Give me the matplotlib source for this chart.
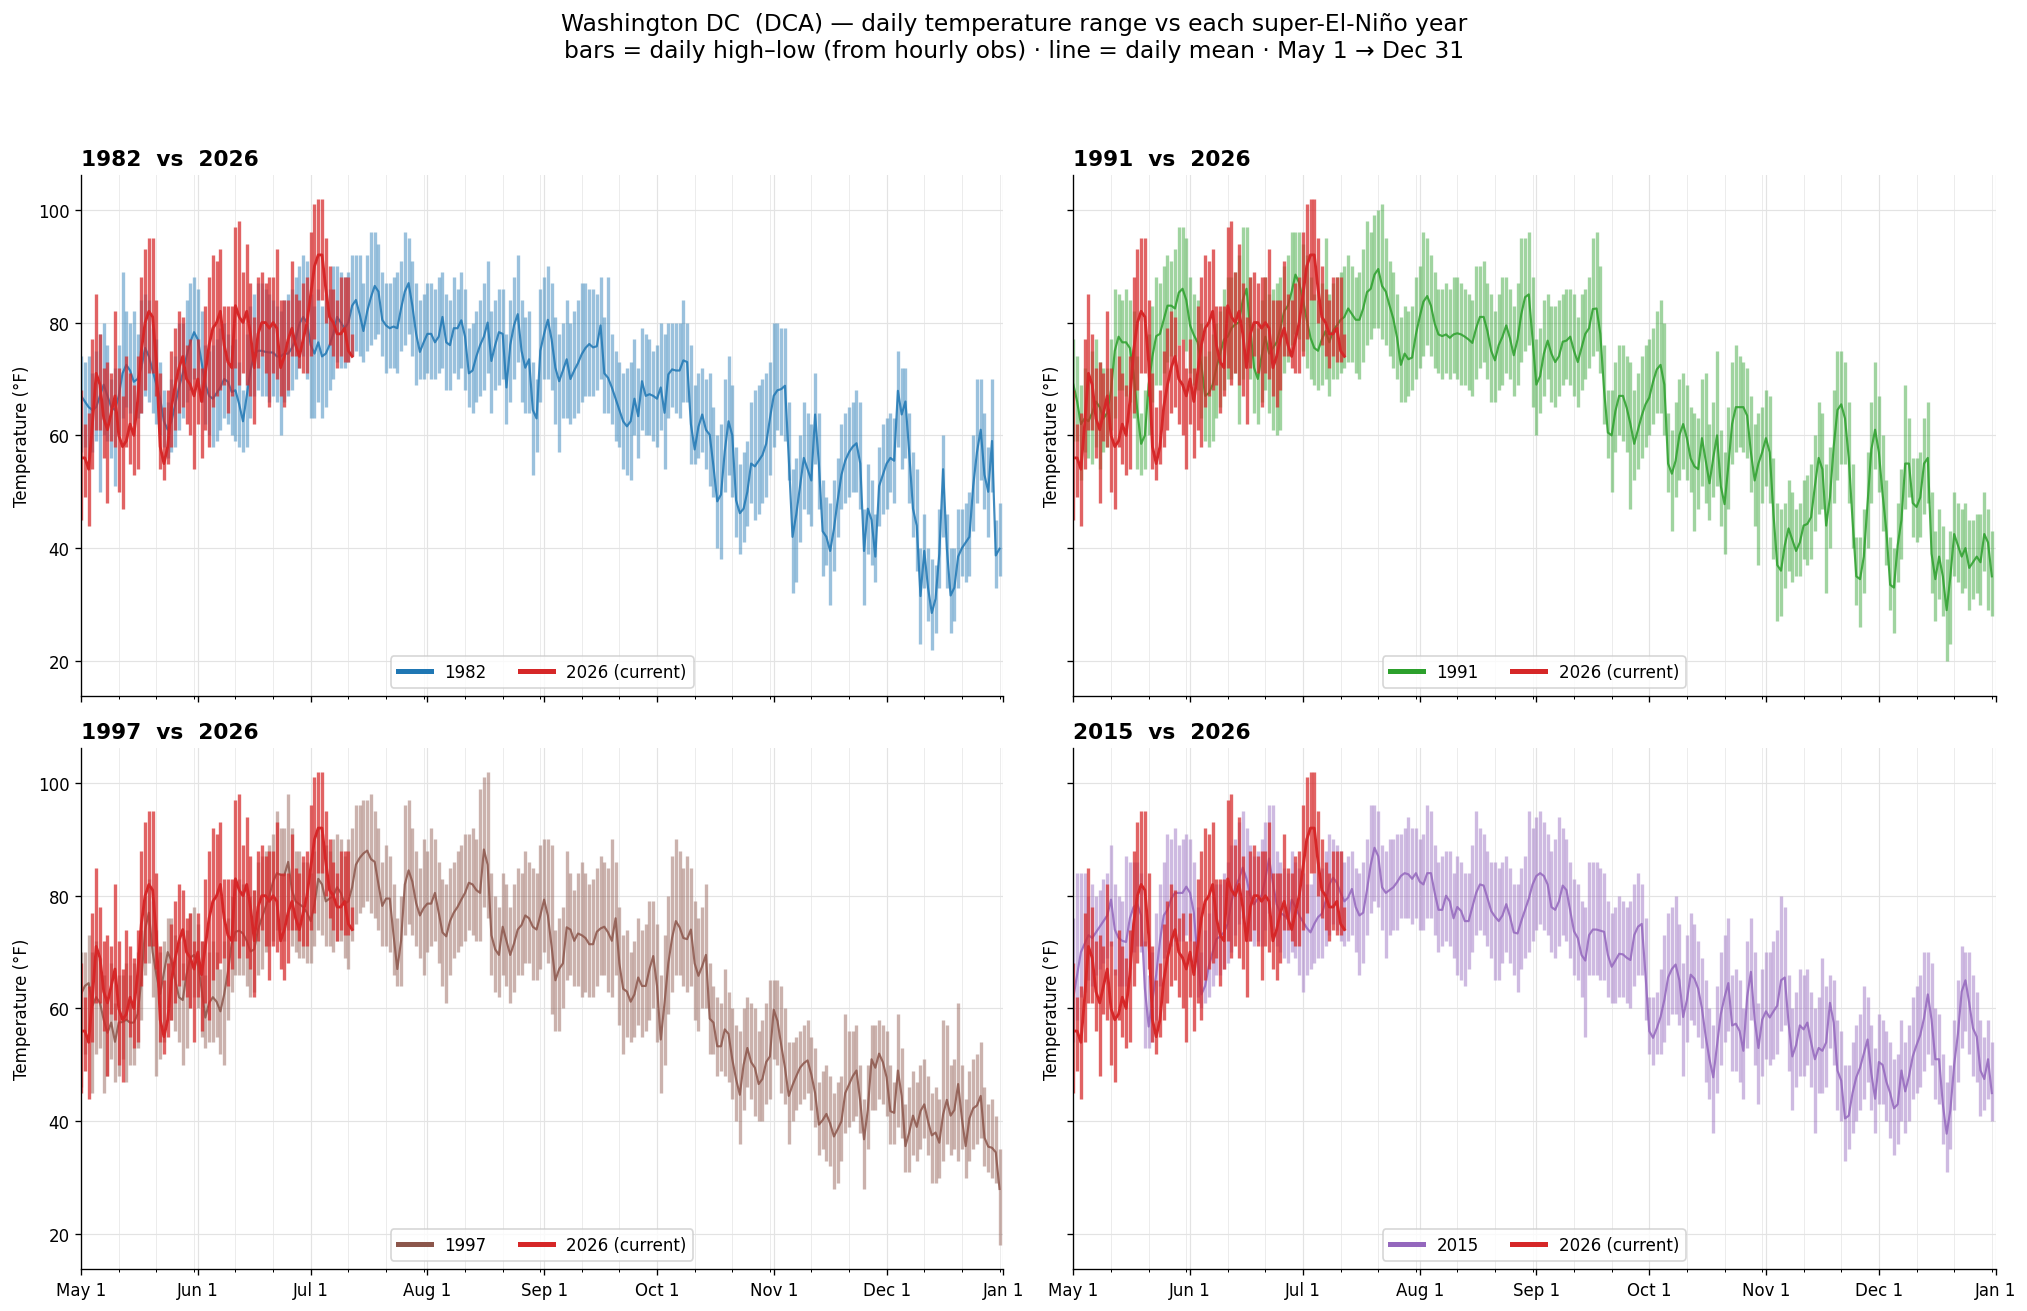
import matplotlib
matplotlib.use("Agg")
import matplotlib.pyplot as plt
import matplotlib.dates as mdates
from matplotlib.lines import Line2D
from datetime import datetime
import pandas as pd

# day axis: May 1 -> Dec 31 (common calendar)
days = pd.date_range("2026-05-01", "2026-12-31", freq="D").to_pydatetime()

mean_1982 = [67, 66, 65, 64.5, 65, 67, 69, 67, 65, 64.5,
             67, 71, 72.5, 71.5, 69.5, 70, 72, 75.5, 74, 71.5,
             69, 66.5, 62.5, 61, 62.5, 65.5, 68.5, 71, 74, 76.5,
             78.3, 77, 73, 69, 67, 66.5, 67.5, 68.5, 70, 69.5,
             67.7, 68, 65.5, 62.5, 67, 71.5, 74.5, 75, 75, 74.8,
             74.7, 74.7, 74, 74, 74.5, 74.5, 75.5, 77, 79.8, 81,
             80, 76, 74.5, 76.5, 74, 74.5, 76, 78, 81, 80,
             79, 80, 83, 84, 81.5, 78.5, 82, 84.5, 86.5, 85.5,
             80.5, 79.5, 79, 79.3, 79, 82.5, 85.5, 87, 83, 78,
             74.8, 76.5, 78, 78, 76.5, 77.5, 81, 76.5, 76, 79,
             79, 80.4, 77.5, 71, 71.5, 74, 76, 77.5, 80, 73.2,
             76, 78.3, 78, 68.5, 76, 79.5, 81.5, 75, 72, 73.5,
             64.5, 63, 75, 78, 80.5, 77, 72, 69.6, 71.5, 73.5,
             70, 71.5, 72.8, 74.4, 75.5, 76.2, 75.6, 75.8, 79.5, 71,
             70.2, 68.5, 66.5, 64.5, 62.5, 61.6, 62.5, 66.5, 63.4, 69.6,
             67, 67.3, 67, 66.5, 68.5, 64, 70.8, 71.7, 71.5, 71.5,
             73.3, 73, 62, 57.5, 61.5, 63.7, 61, 60.1, 54.5, 48.3,
             49.5, 57.2, 62.5, 60, 48.5, 46.2, 47, 50, 55, 54.5,
             55.5, 56.5, 58.5, 63, 67, 68, 68.2, 68.8, 56, 42,
             46, 51, 56, 54, 52, 63.7, 55, 43, 42, 39.5,
             43.4, 48.5, 53, 55.5, 57, 58, 58.6, 55, 39.5, 47,
             45, 38.5, 51, 53, 55, 56, 55.5, 67.9, 63.7, 66,
             57, 47, 44, 31.5, 39.5, 33, 28.5, 31, 39, 54,
             40, 31.6, 33, 38.5, 40, 41, 42, 51, 57, 61,
             53, 50, 59, 38.7, 39.9]
hi_1982 = [74, 73, 74, 71, 75, 78, 80, 76, 70, 72,
           76, 89, 82, 80, 82, 78, 84, 85, 84, 79,
           77, 73, 68, 66, 70, 74, 80, 80, 84, 87,
           88, 86, 82, 76, 75, 76, 77, 79, 80, 78,
           76, 77, 73, 68, 78, 83, 85, 87, 87, 86,
           85, 84, 83, 82, 84, 85, 86, 88, 90, 92,
           91, 85, 83, 86, 83, 85, 86, 90, 90, 89,
           88, 89, 92, 92, 92, 87, 92, 96, 96, 94,
           89, 87, 87, 88, 89, 91, 96, 95, 91, 87,
           84, 85, 87, 87, 86, 88, 89, 85, 84, 88,
           86, 89, 86, 79, 80, 82, 84, 87, 91, 82,
           84, 86, 86, 78, 84, 88, 92, 84, 81, 82,
           73, 70, 86, 88, 90, 87, 81, 78, 80, 84,
           80, 82, 84, 87, 87, 86, 86, 85, 88, 81,
           88, 78, 75, 73, 71, 72, 73, 77, 72, 79,
           78, 77, 75, 76, 80, 78, 80, 80, 80, 80,
           84, 80, 76, 69, 71, 72, 70, 71, 65, 60,
           62, 70, 74, 69, 58, 55, 57, 59, 66, 68,
           69, 70, 71, 73, 80, 80, 79, 79, 66, 54,
           56, 60, 66, 64, 62, 71, 64, 52, 49, 48,
           52, 56, 62, 64, 65, 66, 68, 66, 47, 55,
           52, 46, 58, 62, 63, 64, 63, 75, 72, 72,
           64, 57, 54, 40, 46, 40, 38, 37, 47, 60,
           46, 40, 40, 47, 47, 48, 50, 60, 70, 70,
           64, 58, 70, 45, 48]
lo_1982 = [57, 58, 56, 57, 59, 50, 60, 59, 56, 51,
           60, 63, 65, 64, 62, 63, 64, 67, 66, 64,
           62, 60, 58, 56, 57, 58, 61, 63, 66, 68,
           70, 69, 66, 62, 60, 58, 59, 61, 63, 62,
           60, 59, 58, 57, 58, 63, 67, 68, 67, 67,
           66, 67, 66, 60, 66, 67, 68, 70, 72, 74,
           70, 63, 63, 66, 63, 65, 68, 70, 73, 72,
           72, 73, 74, 75, 74, 73, 75, 76, 77, 78,
           74, 71, 72, 72, 71, 75, 76, 78, 74, 69,
           70, 70, 71, 70, 70, 71, 72, 68, 68, 71,
           70, 72, 68, 65, 64, 66, 67, 68, 71, 64,
           68, 69, 70, 62, 66, 70, 73, 66, 64, 64,
           53, 57, 66, 70, 70, 68, 62, 57, 63, 63,
           62, 63, 64, 66, 67, 67, 67, 68, 70, 64,
           64, 62, 59, 58, 54, 53, 52, 60, 56, 61,
           60, 60, 59, 58, 61, 54, 63, 65, 64, 63,
           66, 66, 55, 55, 56, 57, 54, 51, 49, 40,
           38, 50, 53, 49, 42, 39, 41, 44, 48, 45,
           46, 48, 49, 53, 58, 61, 60, 59, 52, 32,
           34, 41, 47, 46, 44, 55, 47, 35, 37, 30,
           36, 42, 47, 48, 49, 50, 50, 47, 30, 39,
           37, 34, 44, 46, 47, 50, 48, 58, 54, 56,
           48, 42, 36, 23, 33, 27, 22, 25, 33, 42,
           33, 25, 27, 33, 35, 34, 35, 43, 48, 52,
           47, 42, 50, 33, 35]

mean_1991 = [69, 66, 62, 63, 62.5, 64, 66, 65, 63, 64,
             68, 75, 77.5, 76.5, 76.5, 75.5, 71, 64.3, 58.5, 60,
             69, 74, 77.6, 78, 80.5, 83, 83, 82.5, 85.3, 86,
             84, 79.5, 77.8, 76.5, 72.5, 67, 67.5, 69, 72, 74.5,
             77, 77.5, 79, 79.7, 80, 84, 86, 79, 72, 70,
             74, 77.5, 74.5, 75.5, 76.5, 79, 82, 83, 85.5, 88.5,
             87, 84, 80.5, 77.3, 75.5, 75, 77, 78.5, 76.5, 78.6,
             79.5, 80.5, 81, 82.5, 81.5, 80.5, 80.5, 82.5, 85.4, 86,
             88.5, 89.5, 86.5, 85.5, 83, 80.7, 77.3, 72.5, 74.5, 73.5,
             73.8, 77.9, 81, 83.7, 84.7, 83, 79.8, 77.9, 77.6, 77.9,
             77.3, 77.9, 78.1, 77.9, 77.5, 77, 76.4, 79, 81, 81,
             78.5, 75, 73.3, 76, 77.5, 79.5, 77.2, 74.2, 77, 81.5,
             84.5, 85, 77, 69, 70.5, 74.5, 76.8, 74.5, 73, 74,
             76.6, 76.8, 77.5, 75, 73, 75.5, 78, 79, 82.4, 82.5,
             78, 68, 60.5, 60, 64.3, 67, 67, 64.9, 62, 58.5,
             61, 63.5, 65.5, 66.7, 69.5, 71.7, 72.5, 69, 55, 53.2,
             55.5, 60, 62, 59.5, 55.9, 54.5, 54, 59.5, 55.5, 51.5,
             56, 60, 51, 47.8, 54.5, 62, 65, 65, 65, 63.5,
             57, 52, 55, 57, 59.5, 57, 46, 37, 36, 40.5,
             43.5, 41.5, 39.5, 41, 44, 44.3, 45.5, 51, 56, 54,
             44, 49, 58, 64.5, 65.5, 63, 56, 45, 35, 34.5,
             38.5, 48, 57.5, 61, 57, 49.5, 43, 33.5, 33, 40.5,
             45, 55, 55, 48, 47.3, 49, 55, 56, 39, 34.5,
             38.5, 35, 29, 35, 42.5, 40.5, 38.5, 40, 36.5, 37.5,
             38.5, 37.5, 42.5, 41, 35]
hi_1991 = [77, 74, 69, 72, 70, 75, 77, 73, 72, 72,
           77, 86, 85, 84, 86, 84, 82, 74, 64, 68,
           78, 83, 88, 87, 90, 92, 91, 93, 97, 97,
           95, 88, 85, 84, 80, 74, 75, 78, 80, 82,
           86, 88, 88, 89, 92, 97, 97, 88, 80, 79,
           84, 88, 85, 86, 87, 88, 90, 92, 96, 96,
           96, 94, 92, 88, 85, 84, 87, 95, 85, 87,
           88, 89, 90, 92, 90, 88, 89, 93, 98, 96,
           99, 100, 101, 95, 91, 89, 85, 81, 83, 82,
           83, 88, 90, 96, 95, 92, 89, 86, 86, 87,
           86, 88, 88, 87, 86, 85, 84, 90, 90, 91,
           87, 85, 82, 85, 88, 88, 86, 83, 87, 95,
           95, 96, 88, 77, 79, 84, 85, 83, 83, 84,
           85, 86, 86, 85, 81, 85, 86, 88, 95, 96,
           90, 76, 68, 68, 73, 76, 76, 74, 73, 68,
           71, 74, 76, 77, 79, 82, 84, 80, 64, 61,
           66, 70, 71, 69, 65, 64, 63, 70, 71, 62,
           66, 75, 61, 57, 65, 73, 76, 74, 73, 72,
           67, 62, 64, 65, 68, 67, 56, 48, 47, 48,
           52, 50, 47, 48, 52, 53, 55, 60, 66, 64,
           55, 58, 68, 75, 75, 73, 66, 55, 42, 42,
           47, 57, 66, 73, 67, 60, 52, 42, 40, 48,
           54, 69, 63, 56, 56, 57, 63, 66, 50, 43,
           47, 44, 38, 43, 50, 48, 47, 48, 45, 45,
           46, 46, 50, 47, 43]
lo_1991 = [59, 59, 52, 57, 56, 55, 58, 54, 57, 58,
           61, 63, 68, 68, 67, 66, 63, 54, 53, 54,
           60, 66, 69, 69, 71, 73, 74, 74, 76, 77,
           75, 71, 69, 68, 63, 59, 58, 59, 63, 65,
           68, 70, 70, 71, 62, 70, 73, 70, 64, 62,
           66, 68, 64, 61, 60, 61, 71, 73, 76, 78,
           77, 75, 72, 70, 69, 68, 69, 70, 67, 70,
           70, 71, 72, 73, 73, 71, 70, 73, 76, 77,
           79, 79, 77, 76, 74, 72, 70, 66, 66, 67,
           68, 70, 72, 74, 76, 74, 72, 71, 70, 71,
           70, 71, 70, 69, 69, 68, 67, 70, 72, 73,
           70, 66, 66, 68, 69, 71, 70, 67, 69, 73,
           75, 76, 65, 60, 64, 67, 70, 66, 65, 67,
           69, 70, 69, 67, 65, 68, 70, 72, 74, 75,
           71, 62, 56, 50, 57, 60, 59, 57, 47, 52,
           54, 56, 58, 60, 62, 64, 64, 60, 50, 43,
           49, 52, 54, 52, 50, 43, 47, 51, 48, 45,
           49, 51, 44, 39, 47, 55, 57, 58, 57, 56,
           50, 44, 37, 48, 51, 48, 38, 27, 28, 33,
           36, 34, 35, 35, 38, 37, 38, 43, 46, 47,
           32, 40, 48, 52, 55, 55, 48, 40, 30, 26,
           32, 40, 48, 54, 50, 43, 37, 29, 25, 34,
           38, 47, 49, 42, 41, 42, 46, 48, 32, 27,
           31, 28, 20, 23, 35, 34, 32, 33, 29, 31,
           32, 30, 36, 29, 28]

mean_1997 = [62.6, 64, 64.5, 60.5, 62, 61, 58, 55.7, 57.5, 54.1,
             57.5, 57.6, 58, 57.5, 57.5, 59, 65, 74, 77, 70,
             66, 62.6, 66.4, 70, 68.5, 65, 62, 61.5, 66, 69,
             69.5, 68, 63.5, 58.4, 61, 62, 61.2, 59.5, 62.5, 66.5,
             71.5, 73.6, 73.8, 73.3, 72, 70.1, 70.5, 74, 76, 78,
             80, 82.5, 84, 83.7, 83.6, 86, 81, 79, 78.5, 78,
             77, 75.5, 78.5, 83, 82, 79, 79.5, 80, 81.5, 80.5,
             78.6, 79, 81.5, 85.5, 86.7, 87.5, 88, 86.5, 86, 82,
             78.2, 79.5, 79.5, 73, 67, 72, 82, 84.5, 82.5, 78.7,
             76.5, 77.8, 78.6, 78.6, 80.5, 77, 73.5, 72.8, 75.5, 77,
             78, 79.3, 80.5, 82.3, 82, 81, 80.5, 88.2, 85.5, 73,
             70.5, 69.5, 74.5, 72, 69.5, 71.5, 74, 74.8, 76.5, 76,
             74.5, 74, 76.5, 79.3, 76.5, 71, 65, 67, 68, 74.4,
             74, 72, 73.3, 73, 72.5, 71.4, 71.4, 73.6, 74.2, 74.5,
             73.5, 72, 76, 68, 63.5, 63, 61.2, 62.5, 65.5, 64,
             64, 67, 69.3, 64, 54.5, 61, 68, 72.5, 75.5, 74.4,
             72.5, 72.3, 74, 68, 65.8, 67.5, 69.5, 58.2, 57.5, 53.3,
             53.3, 56.3, 55.5, 51, 47.5, 44.7, 50, 53, 50.5, 49.5,
             46.6, 47.5, 50.5, 51.5, 59.8, 57.8, 53.5, 49.5, 44.5, 46.4,
             48, 49.5, 50.3, 50.8, 48.3, 45, 39.4, 40.2, 41.3, 39.6,
             37.3, 38.6, 40, 45, 46.5, 48, 49, 43.5, 36.8, 42,
             51, 49.5, 52, 50.5, 47.8, 41.8, 41.5, 49, 44.5, 35.6,
             38, 41, 39, 41.8, 43, 40, 37.5, 38, 36.2, 41.2,
             43.8, 41, 42, 46.6, 40.5, 35.6, 40.5, 42.3, 42.8, 44.5,
             37.1, 35.5, 35.3, 34.5, 28]
hi_1997 = [70, 70, 73, 70, 72, 69, 66, 62, 68, 61,
           66, 66, 68, 66, 68, 70, 74, 80, 83, 79,
           74, 70, 72, 76, 76, 73, 72, 68, 74, 77,
           78, 75, 72, 66, 70, 72, 70, 67, 72, 76,
           80, 82, 83, 82, 81, 80, 81, 86, 87, 88,
           89, 91, 95, 92, 92, 98, 92, 88, 88, 86,
           86, 84, 88, 92, 91, 89, 88, 90, 91, 90,
           87, 90, 92, 96, 96, 97, 97, 98, 95, 92,
           86, 89, 87, 82, 76, 80, 96, 97, 92, 88,
           85, 90, 88, 92, 90, 86, 83, 82, 85, 86,
           88, 89, 91, 91, 92, 90, 99, 101, 102, 84,
           80, 78, 84, 82, 78, 82, 85, 84, 88, 86,
           85, 84, 89, 90, 90, 89, 74, 76, 78, 88,
           84, 81, 84, 86, 84, 82, 83, 85, 87, 86,
           85, 90, 86, 78, 73, 74, 70, 72, 76, 74,
           75, 79, 79, 75, 66, 73, 80, 87, 90, 88,
           85, 87, 85, 79, 76, 78, 82, 68, 64, 62,
           61, 67, 63, 60, 57, 56, 60, 62, 61, 60,
           56, 58, 61, 65, 65, 65, 64, 60, 54, 54,
           55, 56, 57, 58, 55, 53, 47, 49, 50, 48,
           45, 47, 48, 59, 56, 56, 57, 50, 44, 50,
           57, 57, 58, 57, 56, 50, 47, 59, 53, 43,
           46, 49, 47, 50, 51, 48, 45, 46, 44, 58,
           57, 50, 51, 61, 50, 44, 49, 51, 52, 54,
           46, 43, 44, 41, 35]
lo_1997 = [46, 52, 56, 45, 52, 53, 45, 48, 51, 47,
           48, 51, 47, 50, 50, 53, 58, 66, 68, 62,
           48, 51, 54, 60, 58, 56, 54, 50, 53, 60,
           62, 60, 55, 53, 54, 54, 55, 52, 50, 58,
           63, 66, 66, 66, 64, 62, 63, 66, 67, 70,
           71, 72, 74, 74, 72, 74, 71, 70, 69, 69,
           68, 68, 71, 74, 73, 71, 71, 70, 72, 72,
           69, 67, 72, 75, 77, 78, 79, 77, 76, 74,
           71, 71, 70, 66, 64, 64, 73, 75, 73, 71,
           69, 66, 70, 71, 72, 68, 64, 61, 66, 69,
           70, 71, 72, 74, 73, 72, 72, 78, 76, 66,
           63, 62, 66, 64, 61, 63, 66, 66, 68, 68,
           65, 65, 67, 70, 68, 59, 56, 56, 60, 65,
           66, 64, 64, 62, 63, 62, 62, 64, 66, 66,
           63, 62, 66, 57, 52, 55, 54, 55, 57, 55,
           56, 58, 60, 54, 45, 50, 59, 63, 66, 66,
           64, 63, 64, 58, 56, 60, 60, 52, 52, 48,
           49, 48, 47, 44, 40, 36, 42, 46, 44, 41,
           40, 40, 43, 44, 51, 50, 45, 43, 36, 40,
           42, 43, 44, 45, 42, 39, 34, 35, 33, 32,
           28, 29, 33, 38, 39, 40, 41, 38, 28, 35,
           42, 42, 44, 43, 41, 36, 36, 39, 37, 31,
           31, 34, 33, 35, 37, 34, 29, 29, 30, 33,
           36, 34, 35, 33, 35, 30, 33, 35, 36, 37,
           32, 31, 30, 29, 18]

mean_2015 = [62, 66, 70, 71.5, 73, 72.5, 73.5, 74.5, 75.5, 76.5,
             79.3, 74, 72.5, 72, 71.8, 76, 78, 78.5, 76.5, 63.5,
             56.8, 61.5, 66, 72, 76.5, 77.5, 79.5, 80.5, 80.5, 80.5,
             81.6, 80.5, 77, 69, 62.5, 64, 67.5, 70, 72.3, 72.8,
             73.5, 75, 79, 81.5, 83, 85, 83, 80, 78.5, 79.5,
             80, 83, 86.6, 82.3, 78.5, 77, 76.5, 75.8, 79.3, 78,
             76.5, 75.4, 74.3, 73.5, 75, 76.2, 76.8, 79, 82, 83.2,
             82.3, 80.5, 79, 79.7, 81.2, 78, 76.5, 77, 81, 85.5,
             88.5, 87, 81.5, 80.5, 81, 81.5, 82.4, 83.5, 84, 83.8,
             83, 84, 82.5, 82, 84, 84, 80.5, 77.5, 77.5, 80,
             79, 76, 78, 77.3, 75.5, 75.5, 78, 80.5, 82, 81.8,
             79.6, 77.3, 76.3, 75.5, 76.5, 78.5, 76.3, 73.5, 73.3, 75.5,
             77.5, 79.5, 82, 83.5, 84, 83.5, 82, 78, 77.5, 79,
             81.8, 81, 77.3, 73.7, 72.5, 69.5, 68.5, 73, 74, 74,
             73.8, 73.6, 69.5, 67.4, 68.5, 69.7, 69.6, 69, 68.6, 73,
             74.5, 75, 66, 56, 54.8, 56.5, 58.5, 61.5, 65.5, 67,
             67.8, 65, 58.5, 61.5, 66, 65.3, 63.5, 60, 55, 51,
             47.8, 53.5, 59, 62, 64.5, 57, 57.3, 56, 52.5, 62,
             66.5, 58, 53, 58, 59.5, 58.4, 59.5, 60.5, 65, 65.5,
             57.5, 51.5, 53.5, 57, 56.3, 57.5, 54, 51, 53, 52.5,
             54, 61, 57.5, 49, 47.2, 40.5, 41, 45, 47.8, 49.5,
             52, 54.5, 48.5, 44, 50.5, 50, 47, 45, 42.3, 43,
             49, 45.3, 48, 51.5, 53.5, 55.3, 58.3, 62.5, 58, 51,
             51, 43, 37.8, 42, 50, 55.5, 63, 65, 61, 56.5,
             55, 49, 47.5, 51, 45]
hi_2015 = [76, 84, 84, 84, 80, 82, 80, 81, 83, 84,
           89, 82, 80, 79, 87, 86, 86, 86, 84, 72,
           66, 70, 77, 82, 86, 91, 90, 92, 89, 90,
           91, 90, 86, 78, 70, 74, 77, 80, 82, 82,
           84, 86, 89, 90, 93, 95, 92, 89, 87, 88,
           90, 93, 96, 96, 88, 86, 85, 84, 88, 86,
           85, 84, 82, 82, 84, 86, 85, 88, 91, 90,
           89, 88, 86, 87, 88, 85, 84, 86, 90, 96,
           96, 95, 89, 88, 90, 90, 91, 91, 92, 94,
           92, 92, 90, 91, 96, 95, 89, 86, 87, 88,
           88, 84, 87, 86, 84, 84, 89, 95, 92, 91,
           88, 86, 86, 85, 86, 87, 85, 82, 82, 85,
           87, 95, 92, 94, 95, 93, 91, 88, 90, 94,
           92, 90, 86, 83, 82, 79, 78, 86, 86, 86,
           85, 84, 79, 77, 78, 80, 79, 78, 79, 82,
           84, 82, 76, 62, 62, 63, 67, 73, 77, 78,
           80, 75, 68, 73, 77, 75, 72, 69, 65, 60,
           57, 64, 70, 73, 76, 66, 67, 65, 60, 72,
           76, 70, 61, 67, 70, 70, 72, 74, 80, 78,
           66, 60, 63, 67, 66, 67, 63, 60, 62, 69,
           64, 66, 65, 58, 56, 50, 50, 54, 57, 59,
           64, 62, 57, 53, 59, 58, 56, 54, 51, 52,
           58, 54, 57, 62, 64, 66, 70, 70, 68, 60,
           59, 52, 47, 50, 58, 65, 71, 70, 70, 66,
           63, 58, 55, 58, 54]
lo_2015 = [54, 58, 62, 63, 65, 64, 66, 67, 68, 69,
           71, 66, 64, 64, 64, 67, 70, 71, 70, 53,
           53, 54, 58, 64, 69, 70, 71, 72, 72, 72,
           73, 72, 68, 62, 60, 61, 62, 64, 66, 66,
           67, 68, 70, 73, 75, 76, 74, 72, 71, 72,
           71, 74, 77, 74, 71, 70, 69, 68, 70, 69,
           66, 63, 66, 67, 68, 69, 69, 71, 73, 75,
           74, 72, 71, 72, 73, 70, 66, 68, 73, 77,
           79, 78, 74, 69, 73, 74, 74, 76, 76, 76,
           75, 76, 74, 74, 76, 76, 73, 70, 71, 72,
           71, 69, 66, 65, 64, 67, 70, 73, 74, 73,
           71, 69, 65, 65, 68, 70, 68, 66, 63, 67,
           69, 70, 72, 74, 75, 74, 73, 70, 69, 71,
           73, 72, 69, 66, 65, 62, 55, 66, 66, 66,
           65, 65, 62, 61, 61, 62, 62, 61, 60, 64,
           66, 66, 58, 52, 50, 52, 52, 54, 57, 59,
           59, 57, 48, 54, 58, 57, 55, 53, 47, 44,
           38, 45, 50, 54, 56, 49, 49, 47, 44, 53,
           58, 50, 43, 48, 51, 50, 51, 52, 56, 57,
           49, 42, 46, 48, 48, 50, 46, 38, 45, 45,
           46, 53, 50, 42, 40, 33, 35, 38, 40, 42,
           44, 47, 42, 38, 43, 43, 40, 37, 34, 36,
           40, 38, 40, 44, 45, 46, 49, 52, 50, 44,
           43, 36, 31, 35, 42, 47, 53, 56, 52, 48,
           47, 41, 42, 44, 40]

# 2026 so far (May 1 -> Jul 13)
mean_2026 = [56, 56, 54, 62, 71, 69, 63, 61, 64, 67,
             60, 58, 59, 62, 60, 66, 75, 80, 82, 81,
             73, 58, 55, 58, 65, 69, 72, 74, 70, 69,
             67, 70, 66, 71, 76, 79, 80, 82, 76, 73,
             72, 83, 81, 80, 82, 78, 72, 78, 80, 80,
             79, 80, 79, 72, 74, 77, 79, 76, 74, 77,
             80, 85, 90, 92, 92, 86, 81, 80, 78, 78,
             79, 75, 74]
hi_2026 = [68, 62, 64, 77, 85, 78, 72, 73, 71, 82,
           72, 67, 74, 71, 69, 74, 88, 93, 95, 95,
           84, 71, 65, 68, 75, 79, 82, 81, 76, 77,
           72, 77, 72, 83, 88, 92, 91, 93, 83, 83,
           83, 97, 98, 89, 94, 87, 81, 88, 89, 87,
           88, 88, 93, 84, 84, 84, 91, 85, 84, 87,
           88, 96, 101, 102, 102, 95, 90, 86, 84, 88,
           88, 88, 78]
lo_2026 = [45, 49, 44, 54, 61, 61, 56, 48, 59, 58,
           50, 47, 58, 55, 53, 54, 64, 68, 71, 71,
           67, 54, 52, 55, 58, 61, 64, 65, 62, 60,
           54, 62, 56, 61, 58, 65, 67, 68, 69, 64,
           67, 72, 69, 71, 69, 67, 62, 72, 74, 71,
           65, 71, 70, 67, 65, 68, 74, 74, 72, 71,
           71, 74, 77, 84, 84, 80, 76, 74, 72, 74,
           73, 73, 74]

years = ["1982", "1991", "1997", "2015"]
colors = ["tab:blue", "tab:green", "tab:brown", "tab:purple"]
highs = [hi_1982, hi_1991, hi_1997, hi_2015]
lows = [lo_1982, lo_1991, lo_1997, lo_2015]
means = [mean_1982, mean_1991, mean_1997, mean_2015]

fig, axes = plt.subplots(2, 2, figsize=(16.9, 10.933), dpi=120, sharex=True, sharey=True)
days_2026 = days[:len(mean_2026)]

for ax, yr, c, hi, lo, mn in zip(axes.flat, years, colors, highs, lows, means):
    ax.vlines(days, lo, hi, color=c, alpha=0.45, lw=2.0)
    ax.plot(days, mn, color=c, lw=1.3, alpha=0.85)
    ax.vlines(days_2026, lo_2026, hi_2026, color="tab:red", alpha=0.72, lw=2.0)
    ax.plot(days_2026, mean_2026, color="tab:red", lw=1.7)

    ax.set_title(f"{yr}  vs  2026", loc="left", fontweight="bold", fontsize=13)
    ax.set_ylabel("Temperature (°F)")
    ax.spines["top"].set_visible(False)
    ax.spines["right"].set_visible(False)
    ax.grid(True, which="major", color="#e3e3e3", lw=0.7)
    ax.grid(True, axis="x", which="minor", color="#ececec", lw=0.6)

    handles = [Line2D([0], [0], color=c, lw=3, label=yr),
               Line2D([0], [0], color="tab:red", lw=3, label="2026 (current)")]
    ax.legend(handles=handles, loc="lower center", ncol=2, fontsize=10)

ax = axes[0, 0]
ax.xaxis.set_major_locator(mdates.MonthLocator())
ax.xaxis.set_minor_locator(mdates.DayLocator(bymonthday=[11, 21, 31]))
ax.xaxis.set_major_formatter(mdates.DateFormatter("%b %-d"))
ax.set_xlim(datetime(2026, 5, 1), datetime(2027, 1, 1))
ax.set_ylim(13.8, 106.2)
ax.set_yticks([20, 40, 60, 80, 100])

fig.suptitle("Washington DC  (DCA) — daily temperature range vs each super-El-Niño year\n"
             "bars = daily high–low (from hourly obs) · line = daily mean · May 1 → Dec 31",
             fontsize=14, y=0.99)
fig.subplots_adjust(left=0.040, right=0.984, top=0.866, bottom=0.032, wspace=0.076, hspace=0.1)
fig.savefig("out.png", dpi=120)
